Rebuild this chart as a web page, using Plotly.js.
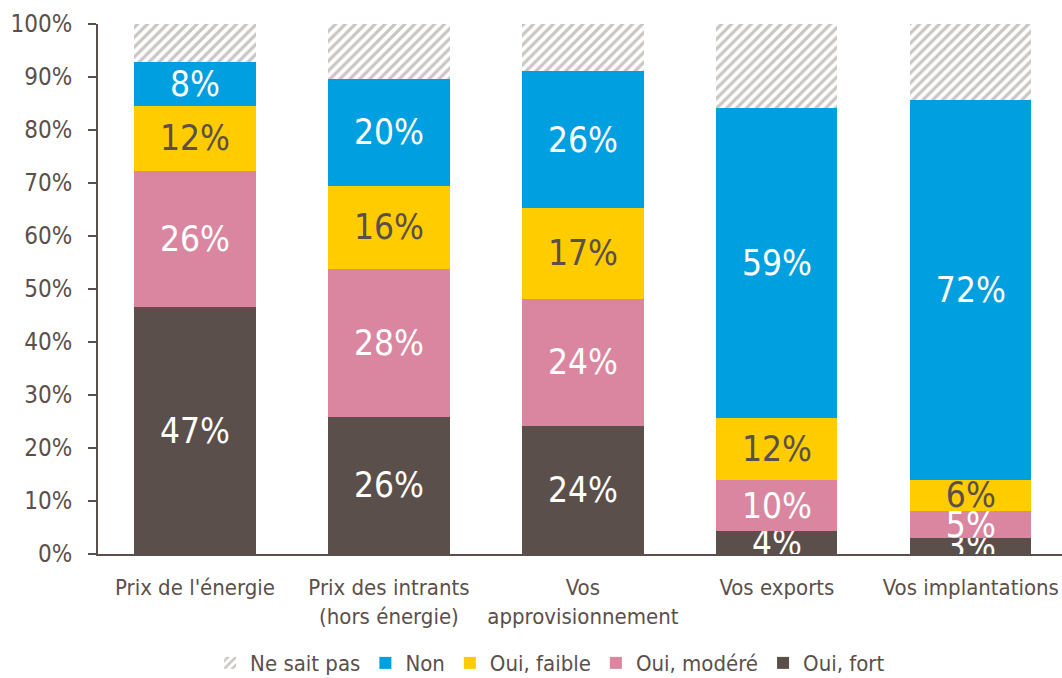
<!DOCTYPE html>
<html><head><meta charset="utf-8">
<script src="https://cdn.plot.ly/plotly-3.0.1.min.js"></script>
<style>html,body{margin:0;padding:0;background:#fff}#chart{width:1062px;height:678px}</style>
</head><body><div id="chart"></div>
<script>
const categories = ["Prix de l'énergie", "Prix des intrants<br>(hors énergie)", "Vos<br>approvisionnement", "Vos exports", "Vos implantations"];
const ouiFort   = [46.6, 25.9, 24.2, 4.3, 3.0];
const ouiModere = [25.7, 27.9, 24.0, 9.6, 5.1];
const ouiFaible = [12.2, 15.7, 17.0, 11.7, 5.9];
const non       = [8.3, 20.2, 26.0, 58.6, 71.7];
const neSaitPas = [7.2, 10.3, 8.8, 15.8, 14.3];
const yTicks = [0, 10, 20, 30, 40, 50, 60, 70, 80, 90, 100];

const FONT = "'Liberation Sans Narrow', 'DejaVu Sans Condensed', Arial, sans-serif";
const DARK = '#5b4f4b';
const x = categories.map((_, i) => i);
const pct = v => Math.round(v) + '%';

function bar(name, vals, color, textColor, showText, pattern) {
  const t = {
    type: 'bar', name: name, x: x, y: vals, width: 0.625,
    marker: {color: color, line: {width: 0}},
    hoverinfo: 'name+y'
  };
  if (pattern) t.marker.pattern = pattern;
  if (showText) {
    t.text = vals.map(pct);
    t.textposition = 'inside';
    t.insidetextanchor = 'middle';
    t.constraintext = 'none';
    t.textangle = 0;
    t.insidetextfont = {family: FONT, size: 35, color: textColor};
  } else {
    t.textposition = 'none';
  }
  return t;
}

const data = [
  bar('Oui, fort', ouiFort, DARK, '#ffffff', true),
  bar('Oui, modéré', ouiModere, '#db86a0', '#ffffff', true),
  bar('Oui, faible', ouiFaible, '#ffcc00', DARK, true),
  bar('Non', non, '#009fdf', '#ffffff', true),
  bar('Ne sait pas', neSaitPas, '#ffffff', '#ffffff', false,
      {shape: '/', fgcolor: '#c9c5c2', bgcolor: '#ffffff', size: 7, solidity: 0.45})
];

const layout = {
  width: 1062, height: 678,
  margin: {l: 98, r: 0, t: 24, b: 124, autoexpand: false},
  barmode: 'stack',
  bargap: 0.375,
  paper_bgcolor: '#fff', plot_bgcolor: '#fff',
  font: {family: FONT, size: 22, color: DARK},
  uniformtext: {mode: 'show', minsize: 35},
  xaxis: {
    range: [-0.5, 4.47], tickmode: 'array', tickvals: x, ticktext: categories,
    tickangle: 0, ticklabelstandoff: 13,
    showline: true, linecolor: DARK, linewidth: 2, ticks: '', showgrid: false,
    zeroline: false, fixedrange: true, tickfont: {family: FONT, size: 22, color: DARK}
  },
  yaxis: {
    range: [0, 100], tickmode: 'array', tickvals: yTicks, ticktext: yTicks.map(v => v + '%'),
    showline: true, linecolor: DARK, linewidth: 2, ticks: 'outside', ticklen: 8,
    tickcolor: DARK, tickwidth: 2, showgrid: false, zeroline: false,
    ticklabelstandoff: 11,
    tickfont: {family: FONT, size: 24, color: DARK}
  },
  legend: {
    orientation: 'h', x: 0.469, xanchor: 'center',
    yref: 'container', y: 0.022, yanchor: 'middle',
    traceorder: 'reversed', font: {family: FONT, size: 22, color: DARK},
    itemclick: false, itemdoubleclick: false
  },
  showlegend: true
};

Plotly.newPlot('chart', data, layout, {displayModeBar: false, staticPlot: true});
</script>
</body></html>
